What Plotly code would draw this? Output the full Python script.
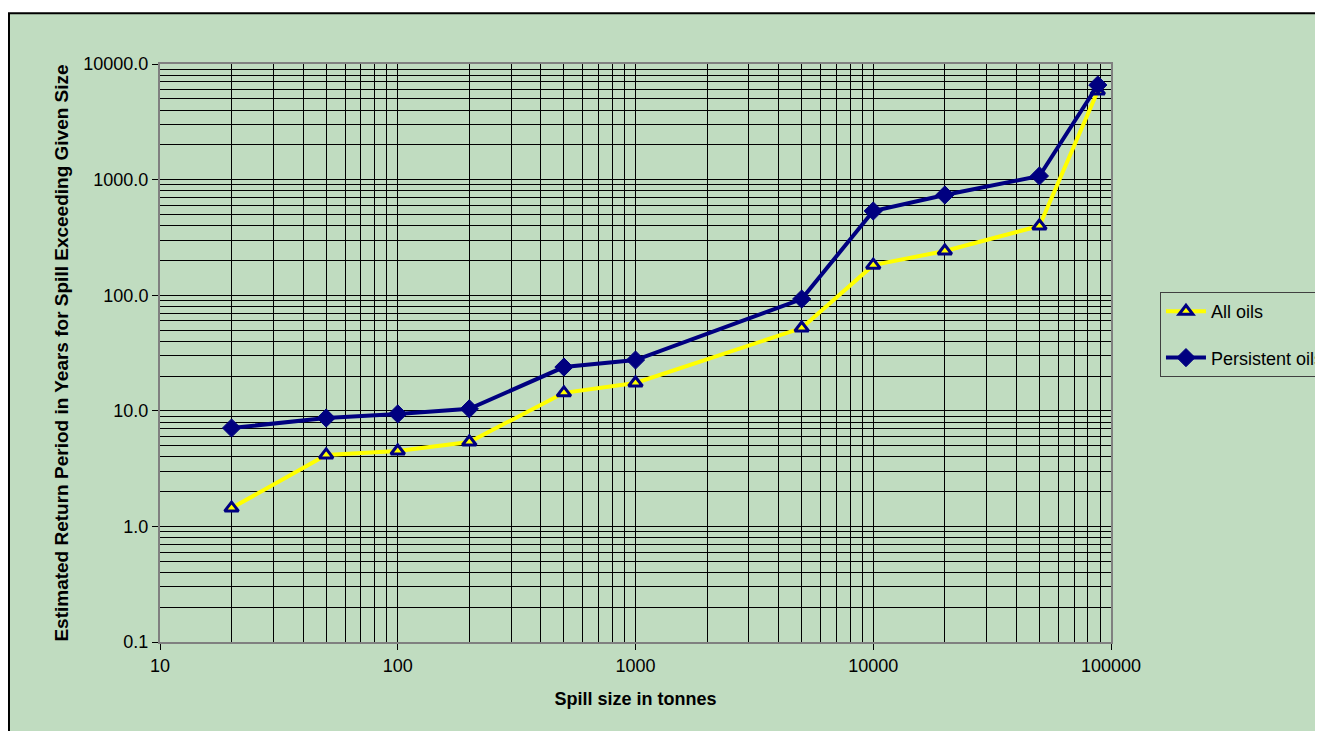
import plotly.graph_objects as go

spill_size = [20, 50, 100, 200, 500, 1000, 5000, 10000, 20000, 50000, 88000]
all_oils = [1.44, 4.15, 4.49, 5.37, 14.3, 17.4, 52, 182, 241, 397, 5840]
persistent_oils = [7.1, 8.66, 9.4, 10.4, 23.9, 27.5, 92.7, 535, 736, 1075, 6580]

x_tickvals = [10, 100, 1000, 10000, 100000]
x_ticktext = ["10", "100", "1000", "10000", "100000"]
y_tickvals = [0.1, 1, 10, 100, 1000, 10000]
y_ticktext = ["0.1", "1.0", "10.0", "100.0", "1000.0", "10000.0"]

FONT = "Liberation Sans, Arial, sans-serif"

fig = go.Figure()
fig.add_trace(go.Scatter(
    x=spill_size, y=all_oils, name="All oils", mode="lines+markers",
    legendgroup="a",
    line=dict(color="#FFFF00", width=4),
    marker=dict(symbol="triangle-up", size=12, color="#FFFF00",
                line=dict(color="#000080", width=3)),
))
fig.add_trace(go.Scatter(
    x=spill_size, y=persistent_oils, name="Persistent oils", mode="lines+markers",
    legendgroup="b",
    line=dict(color="#000080", width=4),
    marker=dict(symbol="diamond", size=14, color="#000080",
                line=dict(color="#000080", width=1)),
))

fig.update_layout(
    width=1323, height=731,
    margin=dict(l=152, r=220, t=56, b=97, autoexpand=False),
    paper_bgcolor="white",
    plot_bgcolor="#C0C0C0",
    font=dict(family=FONT, size=18, color="black"),
    showlegend=True,
    legend=dict(x=1.0515, y=0.6055, xanchor="left", yanchor="top",
                bgcolor="#C0DCC0", bordercolor="#404040", borderwidth=1,
                font=dict(family=FONT, size=18),
                itemwidth=40, tracegroupgap=20),
    shapes=[dict(type="rect", xref="paper", yref="paper", layer="below",
                 x0=-0.1588, x1=1.25, y0=-0.2, y1=1.088,
                 fillcolor="#C0DCC0", line=dict(color="black", width=2))],
    xaxis=dict(
        type="log", range=[1, 5],
        tickvals=x_tickvals, ticktext=x_ticktext,
        ticks="outside", ticklen=6, tickcolor="black",
        showgrid=True, gridcolor="black", gridwidth=1,
        minor=dict(showgrid=True, gridcolor="black", gridwidth=1, dtick="D1", ticks=""),
        showline=True, linecolor="#808080", linewidth=2, mirror=True,
        zeroline=False,
        title=dict(text="<b>Spill size in tonnes</b>", standoff=18,
                   font=dict(family=FONT, size=18)),
        tickfont=dict(size=18),
    ),
    yaxis=dict(
        type="log", range=[-1, 4],
        tickvals=y_tickvals, ticktext=y_ticktext,
        ticks="outside", ticklen=6, tickcolor="black",
        showgrid=True, gridcolor="black", gridwidth=1,
        minor=dict(showgrid=True, gridcolor="black", gridwidth=1, dtick="D1", ticks=""),
        showline=True, linecolor="#808080", linewidth=2, mirror=True,
        zeroline=False,
        title=dict(text="<b>Estimated Return Period in Years for Spill Exceeding Given Size</b>",
                   standoff=10,
                   font=dict(family=FONT, size=19)),
        tickfont=dict(size=18),
    ),
)

fig.write_html("out.html")
